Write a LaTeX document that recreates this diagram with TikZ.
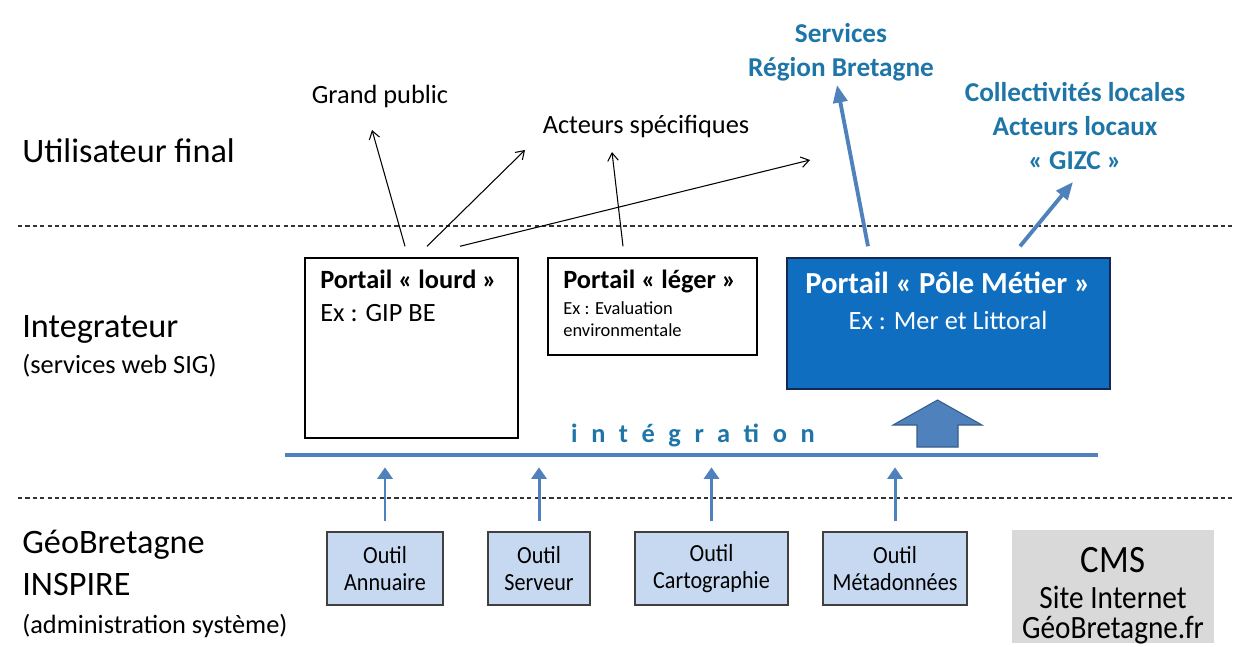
\documentclass[tikz,border=0pt]{standalone}
\usepackage{fontspec}
\setmainfont{Carlito}
\newfontfamily\spacedfont[LetterSpace=52]{Carlito}
\newfontfamily\narrowfont[FakeStretch=0.9]{Carlito}
\usetikzlibrary{arrows.meta,calc,positioning}

\definecolor{accentblue}{RGB}{79,129,189}
\definecolor{accentdark}{RGB}{56,93,138}
\definecolor{poleblue}{RGB}{16,110,192}
\definecolor{poleedge}{RGB}{20,40,80}
\definecolor{textblue}{RGB}{30,118,168}
\definecolor{toolfill}{RGB}{198,217,241}
\definecolor{cmsgray}{RGB}{217,217,217}

\tikzset{
  layerlbl/.style={anchor=mid west, inner sep=0pt, font=\fontsize{19.5}{23}\selectfont},
  sublbl/.style={anchor=mid west, inner sep=0pt, font=\fontsize{15}{18}\selectfont},
  actor/.style={inner sep=0pt, font=\fontsize{15}{18}\selectfont},
  bluelbl/.style={inner sep=0pt, align=center, text=textblue, font=\bfseries\fontsize{15.5}{19.5}\selectfont},
  plainbox/.style={draw=black, line width=0.85pt, inner sep=0pt},
  polebox/.style={draw=poleedge, fill=poleblue, line width=0.85pt, inner sep=0pt},
  toolbox/.style={draw=black!75, fill=toolfill, line width=0.7pt, inner sep=0pt, minimum height=1.46cm, align=center, font=\narrowfont\fontsize{14}{15.3}\selectfont},
  cmsbox/.style={fill=cmsgray, inner sep=0pt},
  cmstext/.style={inner sep=0pt, font=\narrowfont\fontsize{18.5}{20}\selectfont},
  boxtitle/.style={anchor=mid west, inner sep=0pt, font=\bfseries\fontsize{15}{18}\selectfont},
  boxtext/.style={anchor=mid west, inner sep=0pt, font=\fontsize{15}{18}\selectfont},
  smalltext/.style={anchor=mid west, inner sep=0pt, font=\fontsize{10.5}{12}\selectfont},
  poletitle/.style={inner sep=0pt, text=white, font=\bfseries\fontsize{17.4}{20}\selectfont},
  poletext/.style={inner sep=0pt, text=white, font=\fontsize{15}{18}\selectfont},
  sepline/.style={draw=black!80, line width=0.6pt, dash pattern=on 2.4pt off 1.8pt},
  intbar/.style={fill=accentblue, inner sep=0pt, minimum height=0.08cm, minimum width=16.26cm},
  integtext/.style={inner sep=0pt, text=textblue, font=\spacedfont\bfseries\fontsize{15}{18}\selectfont},
  blockarrow/.style={fill=accentblue, draw=accentdark, line width=0.6pt, line join=miter},
  thinarrow/.style={draw=black, line width=0.6pt, -{Straight Barb[length=4.5pt,width=6pt]}},
  bluearrow/.style={draw=accentblue, line width=2.2pt, -{Triangle[length=10pt,width=8pt]}},
  toolarrow/.style={draw=accentblue, line width=1.7pt, -{Triangle[length=6.5pt,width=8.5pt]}, shorten <=0.2cm, shorten >=0.2cm},
}

\begin{document}
\begin{tikzpicture}[x=0.02cm, y=-0.02cm]
    \useasboundingbox (0,0) rectangle (1233,646);
    \fill[white] (0,0) rectangle (1233,646);

    % Layers
    \draw[sepline] (18,226) -- (1233,226);
    \draw[sepline] (18,498) -- (1233,498);
    \node[layerlbl] (userlbl) at (22,158) {Utilisateur final};
    \node[layerlbl] (intlbl) at (22,333) {Integrateur};
    \node[sublbl] (intsub) at (22,369) {(services web SIG)};
    \node[layerlbl] (geolbl) at (22,549) {GéoBretagne};
    \node[layerlbl] (inspirelbl) at (22,591) {INSPIRE};
    \node[sublbl] (adminlbl) at (22,629) {(administration système)};

    % End users
    \node[actor] (grandpub) at (380,96) {Grand public};
    \node[actor] (acteurs) at (646,127) {Acteurs spécifiques};
    \node[bluelbl] (regsvc) at (841,52) {Services\\Région Bretagne};
    \node[bluelbl] (collect) at (1075,126) {Collectivités locales\\Acteurs locaux\\«~GIZC~»};

    % Portals
    \node[plainbox, minimum width=4.26cm, minimum height=3.6cm] (lourd) at (411.5,348) {};
    \node[boxtitle] (lourdtitle) at (320,284) {Portail «~lourd~»};
    \node[boxtext] (lourdex) at (320,317) {Ex : GIP BE};

    \node[plainbox, minimum width=4.18cm, minimum height=1.94cm] (leger) at (652.5,306.5) {};
    \node[boxtitle] (legertitle) at (563,284) {Portail «~léger~»};
    \node[smalltext] (legerex) at (563,310) {Ex : Evaluation};
    \node[smalltext] (legerex2) at (563,332) {environmentale};

    \node[polebox, minimum width=6.46cm, minimum height=2.62cm] (pole) at (948.5,323.5) {};
    \node[poletitle] (poletitle) at (948,283) {Portail «~Pôle Métier~»};
    \node[poletext] (poleex) at (948,320) {Ex : Mer et Littoral};

    % Integration
    \node[intbar] (integ) at (691.5,455) {};
    \node[integtext] (integlbl) at (693,435) {intégration};
    \filldraw[blockarrow] (917,447) -- (917,425) -- (893,425) -- (937.5,400)
        -- (982,425) -- (958,425) -- (958,447) -- cycle;

    % Tools
    \node[toolbox, minimum width=2.32cm] (annuaire) at (385,568.5) {Outil\\Annuaire};
    \node[toolbox, minimum width=2.04cm] (serveur) at (539,568.5) {Outil\\Serveur};
    \node[toolbox, minimum width=3.06cm] (carto) at (711.5,568.5) {Outil\\Cartographie};
    \node[toolbox, minimum width=2.88cm] (meta) at (895,568.5) {Outil\\Métadonnées};
    \foreach \t in {annuaire,serveur,carto,meta}
        \draw[toolarrow] (\t.north) -- (\t.north |- integ.south);

    % CMS
    \node[cmsbox, minimum width=4.04cm, minimum height=2.26cm] (cms) at (1113,586.5) {};
    \node[cmstext, font=\narrowfont\fontsize{22}{24}\selectfont] (cmstitle) at (1113,560) {CMS};
    \node[cmstext] (cmssite) at (1113,597) {Site Internet};
    \node[cmstext] (cmsurl) at (1113,630) {GéoBretagne.fr};

    % Connectors
    \draw[thinarrow] ($(lourd.north)+(-6.5,-11)$) -- ($(grandpub)+(-8,34)$);
    \draw[thinarrow] ($(lourd.north)+(15.5,-11)$) -- ($(acteurs)+(-121,23)$);
    \draw[thinarrow] ($(lourd.north)+(48.5,-11)$) -- ($(regsvc)+(-31,108)$);
    \draw[thinarrow] ($(leger.north)+(-29.5,-11)$) -- ($(acteurs)+(-34,25)$);
    \draw[bluearrow] ($(pole.north)+(-80.5,-11)$) -- ($(regsvc)+(-4,33)$);
    \draw[bluearrow] ($(pole.north)+(71.5,-11)$) -- ($(collect)+(-2,56)$);
\end{tikzpicture}
\end{document}
